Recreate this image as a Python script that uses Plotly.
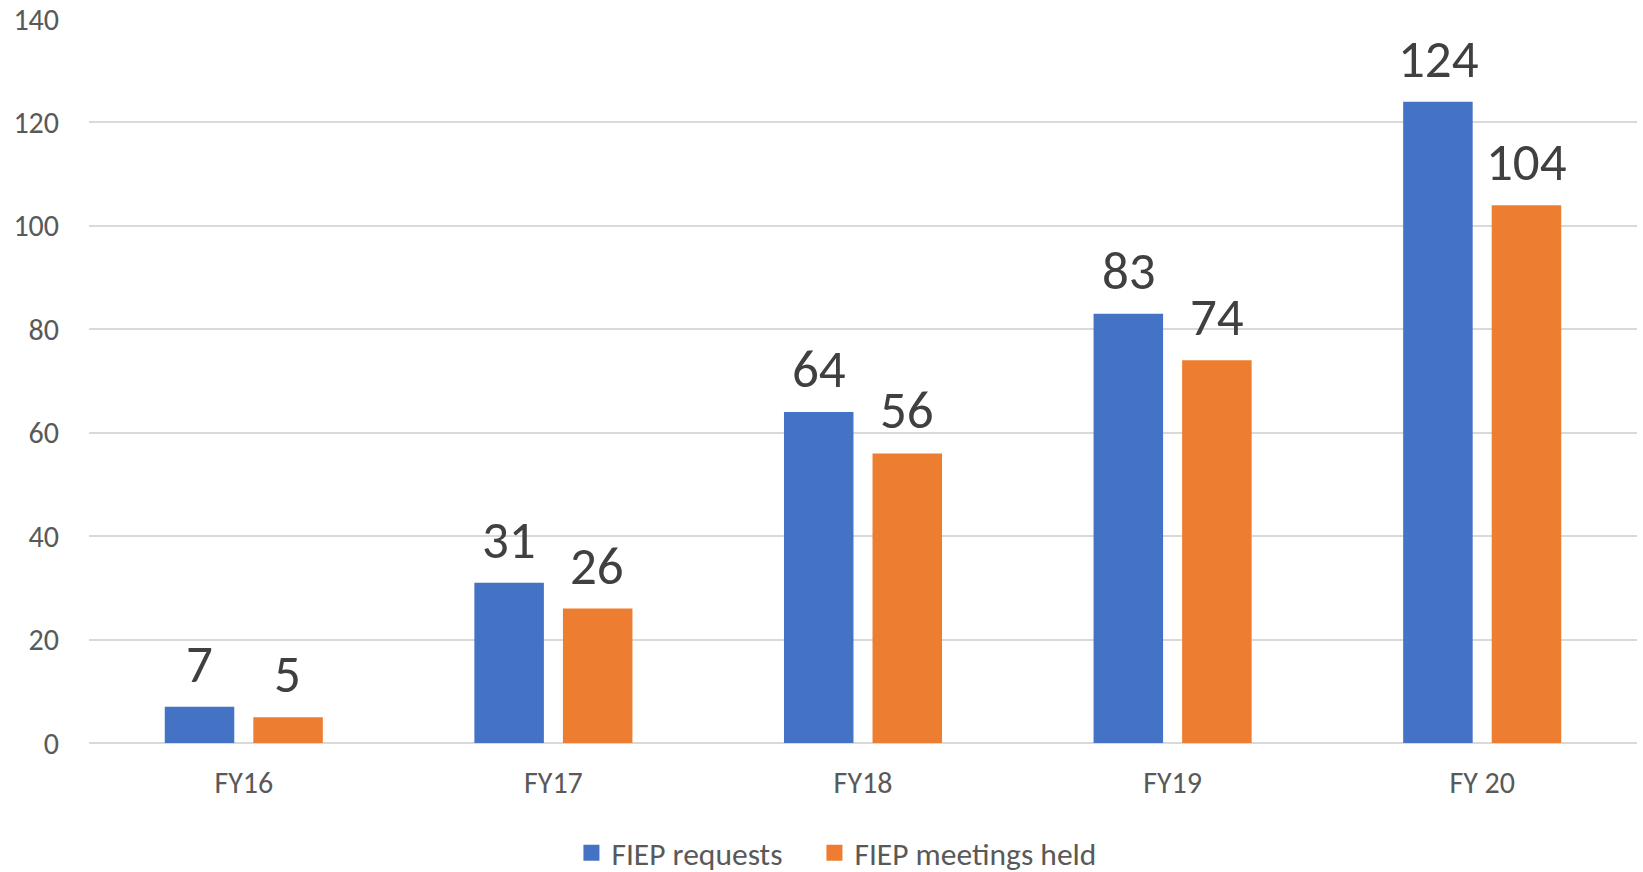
import plotly.graph_objects as go

categories = ["FY16", "FY17", "FY18", "FY19", "FY 20"]
requests = [7, 31, 64, 83, 124]
meetings = [5, 26, 56, 74, 104]
series_names = ["FIEP requests", "FIEP meetings held"]
colors = ["#4472C4", "#ED7D31"]

FONT = "Carlito, Calibri, Lato, sans-serif"

fig = go.Figure()
for i, (name, vals, col) in enumerate(zip(series_names, [requests, meetings], colors)):
    fig.add_trace(go.Bar(x=categories, y=vals, name=name, marker=dict(color=col, line=dict(width=0)),
                         showlegend=False))
    # legend proxy with a larger square swatch
    fig.add_trace(go.Scatter(x=[None], y=[None], mode="markers", name=name,
                             marker=dict(symbol="square", size=19, color=col), showlegend=True,
                             legend="legend" if i == 0 else "legend2"))

# data labels
for vals, shift in [(requests, -44), (meetings, 44)]:
    for c, v in zip(categories, vals):
        fig.add_annotation(x=c, y=v, text=str(v), showarrow=False, xshift=shift, yshift=9,
                           yanchor="bottom", font=dict(family=FONT, size=53, color="#404040"))

leg_common = dict(orientation="h", xref="container", yref="container", y=0.022,
                  xanchor="left", yanchor="middle", font=dict(family=FONT, size=31.5, color="#595959"),
                  itemwidth=30, bgcolor="rgba(0,0,0,0)")

fig.update_layout(
    width=1643, height=872,
    margin=dict(l=89, r=6, t=19, b=129),
    paper_bgcolor="white", plot_bgcolor="white",
    barmode="group", bargap=0.428, bargroupgap=0.215,
    font=dict(family=FONT, size=30, color="#595959"),
    showlegend=True,
    legend=dict(x=0.3478, **leg_common),
    legend2=dict(x=0.4957, **leg_common),
    xaxis=dict(showgrid=False, showline=False, ticks="", ticklabelstandoff=19, automargin=False,
               tickfont=dict(family=FONT, size=30, color="#595959")),
    yaxis=dict(range=[0, 140], dtick=20, showgrid=True, gridcolor="#D9D9D9", gridwidth=1.5,
               zeroline=True, zerolinecolor="#D9D9D9", zerolinewidth=1.5, showline=False, automargin=False,
               ticks="", ticklabelstandoff=29, tickfont=dict(family=FONT, size=30, color="#595959")),
)

fig.write_html("out.html", config={"displayModeBar": False},
               post_script="document.body.style.margin='0';document.body.style.overflow='hidden';")
